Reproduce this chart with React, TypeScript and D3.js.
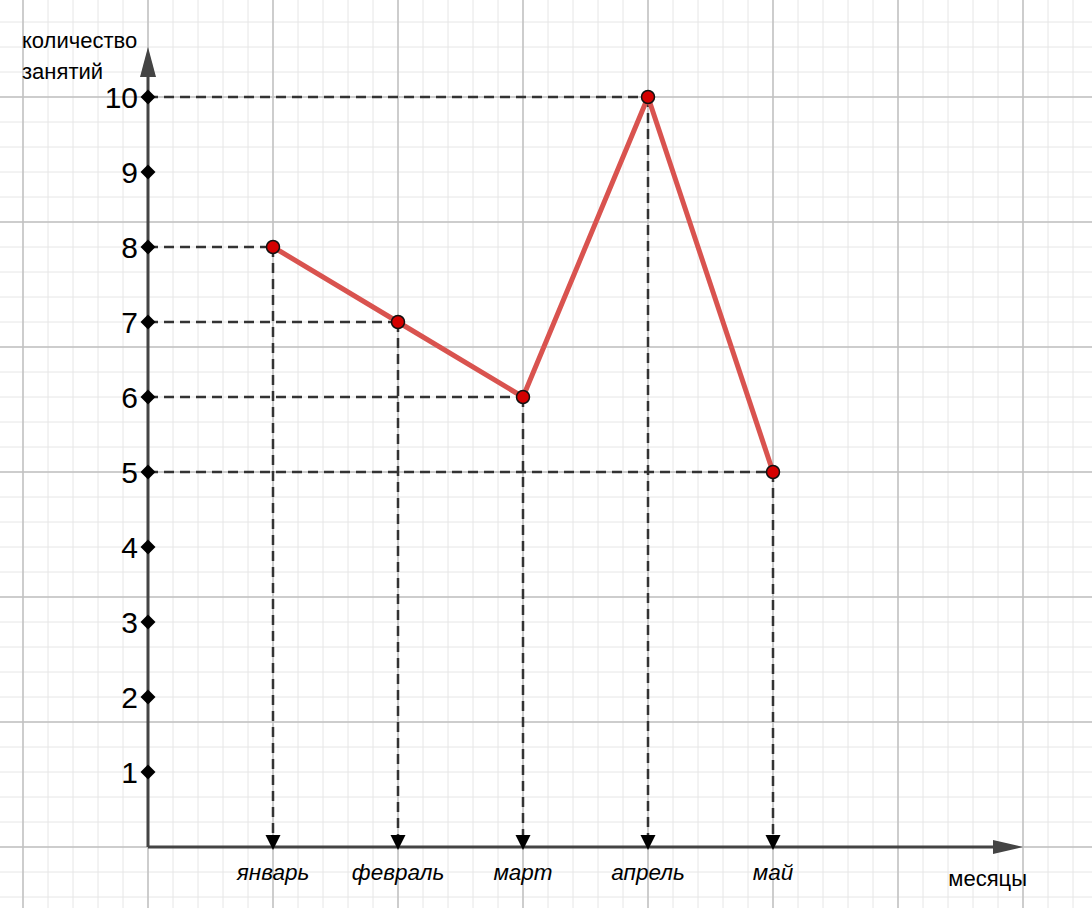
import React from "react";
import * as d3 from "d3";

const months = ["январь", "февраль", "март", "апрель", "май"];
const values = [8, 7, 6, 10, 5];
const yTicks = [1, 2, 3, 4, 5, 6, 7, 8, 9, 10];

const W = 1092;
const H = 908;

export default function App() {
  const x = d3.scaleLinear().domain([0, 7]).range([148, 1023]);
  const y = d3.scaleLinear().domain([0, 10]).range([847, 97]);
  const xm = (i: number) => x(i + 1);

  const minorX = d3.range(-6, 44).map((k) => 148 + k * 25).filter((v) => v >= 0 && v <= W);
  const minorY = d3.range(-4, 40).map((k) => 97 + k * 25 - 75).filter((v) => v >= 0 && v <= H);
  const majorX = d3.range(-1, 9).map((k) => 148 + k * 125).filter((v) => v >= 0 && v <= W);
  const majorY = d3.range(-1, 8).map((k) => 97 + k * 125).filter((v) => v >= 0 && v <= H);

  const line = d3
    .line<number>()
    .x((_, i) => xm(i))
    .y((d) => y(d));

  const font = "'Liberation Sans', Arial, Helvetica, sans-serif";

  return (
    <svg width={W} height={H} style={{ position: "absolute", left: 0, top: 0, background: "#fff" }}>
      <rect x={0} y={0} width={W} height={H} fill="#fff" />
      {minorX.map((v) => (
        <line key={"mx" + v} x1={v} x2={v} y1={0} y2={H} stroke="#e6e6e6" strokeWidth={1} />
      ))}
      {minorY.map((v) => (
        <line key={"my" + v} x1={0} x2={W} y1={v} y2={v} stroke="#e6e6e6" strokeWidth={1} />
      ))}
      {majorX.map((v) => (
        <line key={"Mx" + v} x1={v} x2={v} y1={0} y2={H} stroke="#c0c0c0" strokeWidth={1.5} />
      ))}
      {majorY.map((v) => (
        <line key={"My" + v} x1={0} x2={W} y1={v} y2={v} stroke="#c0c0c0" strokeWidth={1.5} />
      ))}

      {/* dashed guides */}
      {values.map((v, i) => (
        <g key={"g" + i}>
          <line x1={x(0)} x2={xm(i)} y1={y(v)} y2={y(v)} stroke="#333" strokeWidth={2.5} strokeDasharray="10,6" />
          <line x1={xm(i)} x2={xm(i)} y1={y(v)} y2={y(0)} stroke="#333" strokeWidth={2.5} strokeDasharray="10,6" />
        </g>
      ))}

      {/* axes */}
      <line x1={x(0)} x2={x(0)} y1={y(0)} y2={75} stroke="#444" strokeWidth={3} />
      <path d={`M${x(0)},47 L${x(0) - 8},77 L${x(0) + 8},77 Z`} fill="#444" />
      <line x1={x(0)} x2={x(7) - 25} y1={y(0)} y2={y(0)} stroke="#444" strokeWidth={3} />
      <path d={`M${x(7)},${y(0)} L${x(7) - 30},${y(0) - 7} L${x(7) - 30},${y(0) + 7} Z`} fill="#444" />

      {/* y ticks */}
      {yTicks.map((t) => (
        <g key={"t" + t}>
          <path
            d={`M${x(0)},${y(t) - 7.5} L${x(0) + 7.5},${y(t)} L${x(0)},${y(t) + 7.5} L${x(0) - 7.5},${y(t)} Z`}
            fill="#000"
          />
          <text
            x={x(0) - 10}
            y={y(t) + 11}
            textAnchor="end"
            fontFamily={font}
            fontSize={30}
            fill="#000"
          >
            {t}
          </text>
        </g>
      ))}

      {/* x ticks */}
      {months.map((m, i) => (
        <g key={"m" + i}>
          <path d={`M${xm(i) - 7.5},${y(0) - 12} L${xm(i) + 7.5},${y(0) - 12} L${xm(i)},${y(0) + 3} Z`} fill="#000" />
          <text
            x={xm(i)}
            y={y(0) + 33}
            textAnchor="middle"
            fontFamily={font}
            fontStyle="italic"
            fontSize={22.5}
            fill="#000"
          >
            {m}
          </text>
        </g>
      ))}

      {/* series */}
      <path d={line(values) || ""} fill="none" stroke="#d9534f" strokeWidth={5} strokeLinejoin="round" />
      {values.map((v, i) => (
        <circle key={"c" + i} cx={xm(i)} cy={y(v)} r={6.5} fill="#d40000" stroke="#111" strokeWidth={1.5} />
      ))}

      {/* axis titles */}
      <text x={22} y={48} fontFamily={font} fontSize={22} fill="#000">
        количество
      </text>
      <text x={22} y={79} fontFamily={font} fontSize={22} fill="#000">
        занятий
      </text>
      <text x={1027} y={886} textAnchor="end" fontFamily={font} fontSize={22} fill="#000">
        месяцы
      </text>
    </svg>
  );
}
